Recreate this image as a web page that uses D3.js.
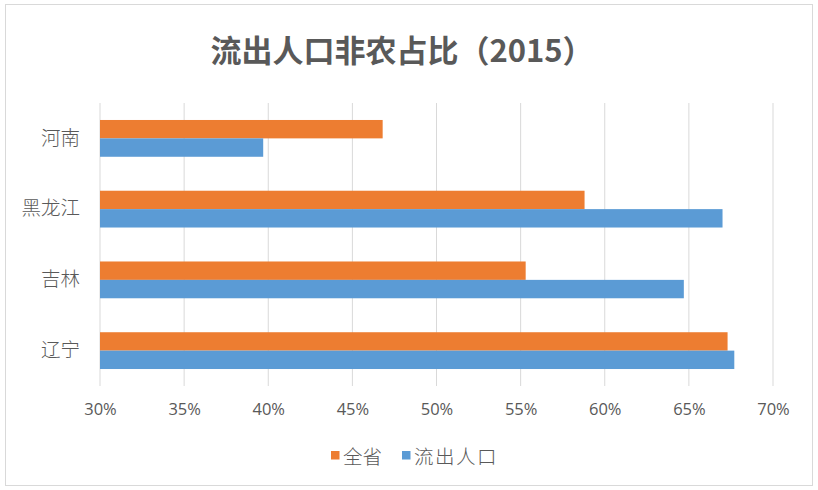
<!DOCTYPE html>
<html>
<head>
<meta charset="utf-8">
<script src="https://cdn.jsdelivr.net/npm/d3@7"></script>
<style>
    body { margin: 0; background: #fff; }
    svg { display: block; }
</style>
</head>
<body>
<div id="chart"></div>
<script>
const provinces = ['河南', '黑龙江', '吉林', '辽宁'];
const seriesNames = ['全省', '流出人口'];
const provinceShare = [46.8, 58.8, 55.3, 67.3];
const migrantShare = [39.7, 67.0, 64.7, 67.7];
const xTicks = [30, 35, 40, 45, 50, 55, 60, 65, 70];
const colors = ['#ED7D31', '#5B9BD5'];

const width = 818;
const height = 490;
const plotLeft = 100, plotRight = 773, plotTop = 103, plotBottom = 386;

const svg = d3.select('#chart')
    .append('svg')
    .attr('width', width)
    .attr('height', height);

// frame
svg.append('rect')
    .attr('x', 5.5)
    .attr('y', 4.5)
    .attr('width', 807)
    .attr('height', 481)
    .style('fill', 'white')
    .style('stroke', '#d9d9d9');

svg.append('text')
    .attr('x', 402)
    .attr('y', 62)
    .attr('text-anchor', 'middle')
    .style('font-family', '"Noto Sans CJK SC", sans-serif')
    .style('font-weight', 'bold')
    .style('font-size', '31px')
    .style('fill', '#595959')
    .text('流出人口非农占比（2015）');

const x = d3.scaleLinear()
    .domain([30, 70])
    .range([plotLeft, plotRight]);

const y = d3.scaleBand()
    .domain(provinces)
    .range([plotTop, plotBottom])
    .paddingInner(0.48)
    .paddingOuter(0.24);

const ySub = d3.scaleBand()
    .domain(seriesNames)
    .range([0, y.bandwidth()]);

// gridlines
svg.selectAll('.grid-line')
    .data(xTicks)
    .join('line')
    .attr('x1', d => x(d))
    .attr('x2', d => x(d))
    .attr('y1', plotTop)
    .attr('y2', plotBottom)
    .attr('stroke', '#d9d9d9')
    .attr('stroke-width', 1)
    .classed('grid-line', true);

// x axis labels
const xAxis = d3.axisBottom(x)
    .tickValues(xTicks)
    .tickSize(0)
    .tickPadding(0)
    .tickFormat(d => d + '%');

svg.append('g')
    .attr('transform', `translate(0, ${plotBottom + 17})`)
    .call(xAxis)
    .call(g => g.select('.domain').remove())
    .selectAll('text')
    .style('font-family', '"Open Sans", sans-serif')
    .style('font-size', '16.5px')
    .style('fill', '#595959');

// category labels
const yAxis = d3.axisLeft(y)
    .tickSize(0)
    .tickPadding(20);

svg.append('g')
    .attr('transform', `translate(${plotLeft}, 0)`)
    .call(yAxis)
    .call(g => g.select('.domain').remove())
    .selectAll('text')
    .style('font-family', '"Noto Sans CJK SC", sans-serif')
    .style('font-weight', 300)
    .style('font-size', '19.5px')
    .style('fill', '#595959');

// bars
const rows = provinces.map((p, i) => ({
    province: p,
    values: [provinceShare[i], migrantShare[i]]
}));

svg.selectAll('.row')
    .data(rows)
    .join('g')
    .classed('row', true)
    .attr('transform', d => `translate(0, ${y(d.province)})`)
    .selectAll('rect')
    .data(d => d.values.map((v, j) => ({ series: seriesNames[j], value: v, color: colors[j] })))
    .join('rect')
    .attr('x', x(30))
    .attr('y', d => ySub(d.series))
    .attr('width', d => x(d.value) - x(30))
    .attr('height', ySub.bandwidth())
    .style('fill', d => d.color);

// legend
const legendX = [331, 402];
const legend = svg.selectAll('.legend-item')
    .data(seriesNames)
    .join('g')
    .classed('legend-item', true)
    .attr('transform', (d, i) => `translate(${legendX[i]}, 455)`);

legend.append('rect')
    .attr('x', 0)
    .attr('y', -4)
    .attr('width', 8.5)
    .attr('height', 8.5)
    .style('fill', (d, i) => colors[i]);

legend.append('text')
    .attr('x', 12)
    .attr('y', 0)
    .attr('dominant-baseline', 'central')
    .style('font-family', '"Noto Sans CJK SC", sans-serif')
    .style('font-weight', 300)
    .style('font-size', '19.5px')
    .style('letter-spacing', (d, i) => i === 1 ? '1.5px' : '0px')
    .style('fill', '#595959')
    .text(d => d);
</script>
</body>
</html>
